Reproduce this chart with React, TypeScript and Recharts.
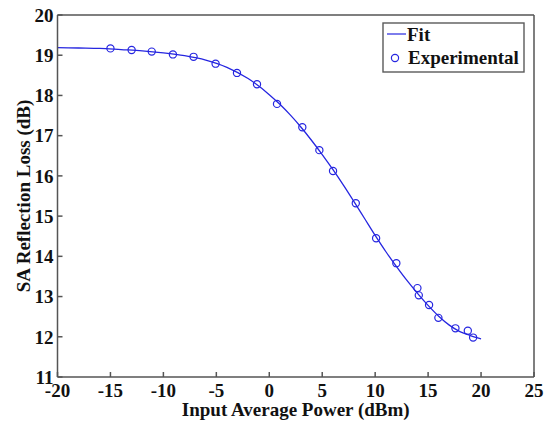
import React from 'react';
import {
  ComposedChart,
  Line,
  Scatter,
  XAxis,
  YAxis,
} from 'recharts';

// experimental points (dBm, dB)
const expPower = [
  -15, -13, -11.1, -9.1, -7.15, -5.07, -3.05, -1.16, 0.73, 3.12, 4.73, 6.02,
  8.17, 10.09, 12.0, 13.99, 14.12, 15.09, 15.97, 17.58, 18.75, 19.25,
];
const expLoss = [
  19.17, 19.13, 19.09, 19.02, 18.96, 18.79, 18.56, 18.28, 17.79, 17.21, 16.64,
  16.12, 15.32, 14.45, 13.83, 13.21, 13.03, 12.79, 12.47, 12.21, 12.15, 11.98,
];

// fitted curve
const fitPower = [
  -20, -18, -16, -14, -12, -10, -8, -6, -4, -2, 0, 1, 2, 3, 4, 5, 6, 7, 8, 9,
  10, 11, 12, 13, 14, 15, 16, 17, 18, 19, 20,
];
const fitLoss = [
  19.19, 19.18, 19.17, 19.14, 19.11, 19.06, 18.99, 18.88, 18.7, 18.42, 18.02,
  17.78, 17.51, 17.21, 16.88, 16.53, 16.16, 15.77, 15.36, 14.94, 14.52, 14.12,
  13.75, 13.4, 13.08, 12.78, 12.51, 12.29, 12.13, 12.03, 11.95,
];

const xTicks = [-20, -15, -10, -5, 0, 5, 10, 15, 20, 25];
const yTicks = [11, 12, 13, 14, 15, 16, 17, 18, 19, 20];

const expData = expPower.map((x, i) => ({ x, y: expLoss[i] }));
const fitData = fitPower.map((x, i) => ({ x, y: fitLoss[i] }));

const BLUE = '#2626e0';
const AXIS = '#555555';
const FONT = '"Liberation Serif", "Times New Roman", serif';

const tickStyle = {
  fontFamily: FONT,
  fontSize: 19,
  fontWeight: 'bold' as const,
  fill: '#111',
};

const OpenCircle = (props: any) => (
  <circle
    cx={props.cx}
    cy={props.cy}
    r={3.6}
    fill='none'
    stroke={BLUE}
    strokeWidth={1.2}
  />
);

// MATLAB-style boxed legend, laid over the plot
const LegendBox = () => (
  <svg
    width={143}
    height={51}
    style={{ position: 'absolute', left: 382, top: 22, display: 'block' }}
  >
    <rect x={1} y={1} width={141} height={49} fill='#fff' stroke='#5a5a5a' strokeWidth={1.4} />
    <line x1={5} x2={24} y1={12} y2={12} stroke={BLUE} strokeWidth={1.2} />
    <circle cx={13} cy={36} r={3.6} fill='none' stroke={BLUE} strokeWidth={1.2} />
    <text x={25} y={19} style={tickStyle}>
      Fit
    </text>
    <text x={26} y={42} style={tickStyle}>
      Experimental
    </text>
  </svg>
);

const YLabel = () => (
  <text
    x={23}
    y={196}
    transform='rotate(-90 23 196)'
    textAnchor='middle'
    dominantBaseline='central'
    style={tickStyle}
  >
    SA Reflection Loss (dB)
  </text>
);

export default function App() {
  return (
    <div
      style={{
        position: 'absolute',
        left: 0,
        top: 0,
        width: 550,
        height: 421,
        background: '#fff',
      }}
    >
      <ComposedChart
        width={550}
        height={421}
        margin={{ top: 15, right: 16, bottom: 0, left: 0 }}
      >
        <XAxis
          dataKey='x'
          type='number'
          domain={[-20, 25]}
          ticks={xTicks}
          interval={0}
          allowDataOverflow
          height={44}
          tickSize={-5}
          tickMargin={12}
          stroke={AXIS}
          strokeWidth={1.5}
          tick={tickStyle}
          label={{
            value: 'Input Average Power (dBm)',
            position: 'insideBottom',
            offset: 5,
            style: tickStyle,
          }}
        />
        <XAxis
          xAxisId='top'
          dataKey='x'
          type='number'
          orientation='top'
          domain={[-20, 25]}
          ticks={xTicks}
          interval={0}
          mirror
          tick={false}
          tickSize={5}
          stroke={AXIS}
          strokeWidth={1.5}
        />
        <YAxis
          dataKey='y'
          type='number'
          domain={[11, 20]}
          ticks={yTicks}
          interval={0}
          allowDataOverflow
          width={57.5}
          tickSize={-5}
          tickMargin={9}
          stroke={AXIS}
          strokeWidth={1.5}
          tick={tickStyle}
          label={{ content: () => <YLabel /> }}
        />
        <YAxis
          yAxisId='right'
          dataKey='y'
          type='number'
          orientation='right'
          domain={[11, 20]}
          ticks={yTicks}
          interval={0}
          mirror
          tick={false}
          tickSize={5}
          stroke={AXIS}
          strokeWidth={1.5}
        />
        <Line
          data={fitData}
          dataKey='y'
          name='Fit'
          type='monotone'
          stroke={BLUE}
          strokeWidth={1.3}
          dot={false}
          isAnimationActive={false}
        />
        <Scatter
          data={expData}
          dataKey='y'
          name='Experimental'
          shape={OpenCircle}
          isAnimationActive={false}
        />
      </ComposedChart>
      <LegendBox />
    </div>
  );
}
